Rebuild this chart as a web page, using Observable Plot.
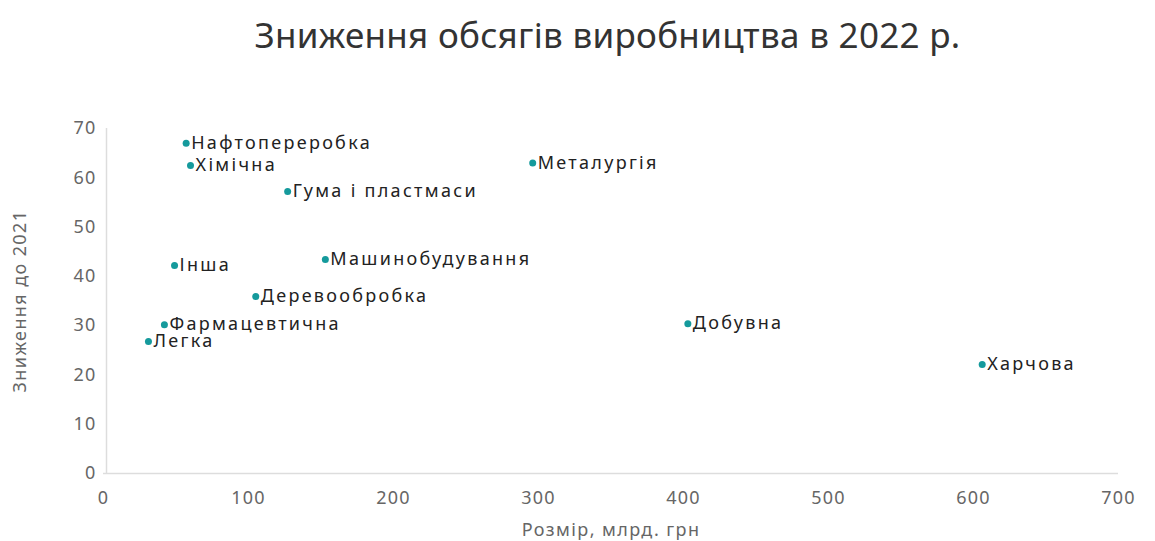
<!DOCTYPE html>
<html><head><meta charset="utf-8">
<script src="https://cdn.jsdelivr.net/npm/d3@7"></script>
<script src="https://cdn.jsdelivr.net/npm/@observablehq/plot@0.6"></script>
<style>
body{margin:0;background:#fff;font-family:"Noto Sans",sans-serif;}
#title{height:80px;box-sizing:border-box;padding-top:11px;text-align:center;font-size:35px;color:#333;padding-left:60px;letter-spacing:0.3px;}
#chart svg g[aria-label="text"] text{letter-spacing:2.3px;}
#chart svg g[aria-label$="tick label"] text{letter-spacing:1.2px;}
#chart svg g[aria-label$="axis label"] text{letter-spacing:1.4px;}
</style></head><body>
<div id="title">Зниження обсягів виробництва в 2022 р.</div>
<div id="chart"></div>
<script>
const industries = ["Нафтопереробка","Хімічна","Гума і пластмаси","Металургія","Машинобудування","Інша","Деревообробка","Фармацевтична","Легка","Добувна","Харчова"];
const sizes = [57, 60, 127, 296, 153, 49, 105, 42, 31, 403, 606];
const declines = [67, 62.5, 57.2, 63, 43.4, 42.2, 35.9, 30.2, 26.8, 30.4, 22.1];
const xTicks = [0,100,200,300,400,500,600,700];
const yTicks = [0,10,20,30,40,50,60,70];
const data = industries.map((n,i)=>({name:n,x:sizes[i],y:declines[i]}));
const chart = Plot.plot({
  width:1155, height:461,
  marginTop:48, marginBottom:68, marginLeft:103, marginRight:37,
  style:{fontFamily:"Noto Sans, sans-serif", fontSize:"18px", color:"#666", background:"#fff"},
  x:{domain:[0,700], ticks:xTicks, label:"Розмір, млрд. грн", labelArrow:"none", labelAnchor:"center", labelOffset:62, tickSize:0, tickPadding:18},
  y:{domain:[0,70], ticks:yTicks, label:"Зниження до 2021", labelArrow:"none", labelAnchor:"center", labelOffset:90, tickSize:0, tickPadding:7},
  marks:[
    Plot.ruleY([0],{stroke:"#ddd", strokeWidth:1.5}),
    Plot.ruleX([0],{stroke:"#ddd", strokeWidth:1.5, dx:3}),
    Plot.dot(data,{x:"x",y:"y",r:3.5,fill:"#159a9c"}),
    Plot.text(data,{x:"x",y:"y",text:"name",textAnchor:"start",dx:5,fill:"#222",fontSize:18})
  ]
});
document.getElementById("chart").appendChild(chart);
</script>
</body></html>
